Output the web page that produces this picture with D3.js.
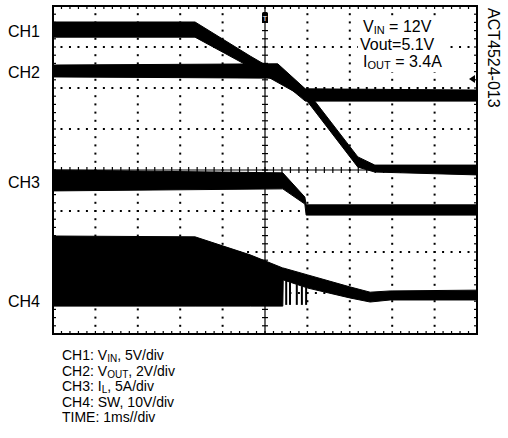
<!DOCTYPE html>
<html>
<head>
<meta charset="utf-8">
<script src="https://cdn.jsdelivr.net/npm/d3@7"></script>
<style>
  body { margin: 0; background: #fff; }
  svg text { font-family: "Liberation Sans", Arial, sans-serif; fill: #000; }
</style>
</head>
<body>
<svg id="scope" width="508" height="438"></svg>
<script>
// time in ms (1ms/div), levels in screen divisions from the centre line
// each trace is an envelope: hi = upper edge, lo = lower edge
const ch1Time = [0, 3.35, 4.65, 5.83, 6.01, 7.19, 7.59, 10]
const ch1Hi   = [3.61, 3.61, 2.78, 2.07, 1.90, 0.32, 0.12, 0.12]
const ch1Lo   = [3.24, 3.24, 2.51, 1.83, 1.66, 0.07, -0.05, -0.12]

const ch2Time = [0, 5.30, 5.95, 10]
const ch2Hi   = [2.56, 2.59, 1.98, 1.95]
const ch2Lo   = [2.27, 2.24, 1.68, 1.68]

const ch3Time = [0, 5.42, 5.94, 5.97, 10]
const ch3Hi   = [0, -0.07, -0.66, -0.85, -0.85]
const ch3Lo   = [-0.51, -0.46, -0.83, -1.10, -1.10]

const ch4Time = [0, 3.35, 4.65, 5.42, 5.43, 6.01, 7.0, 7.48, 7.95, 10]
const ch4Hi   = [-1.61, -1.63, -2.07, -2.39, -2.39, -2.56, -2.85, -2.98, -2.95, -2.93]
const ch4Lo   = [-3.32, -3.32, -3.32, -3.32, -2.68, -2.88, -3.12, -3.22, -3.17, -3.17]
// last few switching pulses after the converter drops out
const ch4Spikes = [5.50, 5.59, 5.75, 5.87, 5.97]
const spikeBottom = -3.29

const channelNames = ["CH1", "CH2", "CH3", "CH4"]
const channelLevels = [3.4, 2.4, -0.3, -3.2]

const legendLines = [
    ["CH1: V", "IN", ", 5V/div"],
    ["CH2: V", "OUT", ", 2V/div"],
    ["CH3: I", "L", ", 5A/div"],
    ["CH4: SW, 10V/div", "", ""],
    ["TIME: 1ms//div", "", ""]
]
const noteLines = [
    ["V", "IN", " = 12V"],
    ["Vout=5.1V", "", ""],
    ["I", "OUT", " = 3.4A"]
]
const partNumber = "ACT4524-013"

var svg = d3.select("#scope")

var x = d3.scaleLinear().domain([0, 10]).range([53, 477])
var y = d3.scaleLinear().domain([-4, 4]).range([334, 6])

var grid = svg.append("g").attr("class", "grid")

// dotted graticule
var minor = d3.range(0, 50.01, 1).map(d => d / 5)        // every 0.2 div in x
var minorY = d3.range(-20, 20.01, 1).map(d => d / 5)     // every 0.2 div in y
var vLines = [1, 2, 3, 4, 6, 7, 8, 9]
var hLines = [-3, -2, -1, 1, 2, 3]

vLines.forEach(function (v) {
    grid.selectAll(null)
        .data(minorY.filter(d => d > -4 && d < 4))
        .enter().append("rect")
        .attr("x", x(v) - 1)
        .attr("y", d => y(d) - 1)
        .attr("width", 2)
        .attr("height", 2)
        .attr("fill", "#000")
})
hLines.forEach(function (h) {
    grid.selectAll(null)
        .data(minor.filter(d => d > 0 && d < 10))
        .enter().append("rect")
        .attr("x", d => x(d) - 1)
        .attr("y", y(h) - 1)
        .attr("width", 2)
        .attr("height", 2)
        .attr("fill", "#000")
})

// centre cross with minor ticks
grid.append("line")
    .attr("x1", x(0)).attr("x2", x(10))
    .attr("y1", y(0)).attr("y2", y(0))
    .attr("stroke", "#000").attr("stroke-width", 1.2)
grid.append("line")
    .attr("x1", x(5)).attr("x2", x(5))
    .attr("y1", y(-4)).attr("y2", y(4))
    .attr("stroke", "#000").attr("stroke-width", 1.2)

grid.selectAll(".htick")
    .data(minor)
    .enter().append("line")
    .attr("class", "htick")
    .attr("x1", d => x(d)).attr("x2", d => x(d))
    .attr("y1", y(0) - 3).attr("y2", y(0) + 3)
    .attr("stroke", "#000").attr("stroke-width", 1.2)
grid.selectAll(".vtick")
    .data(minorY)
    .enter().append("line")
    .attr("class", "vtick")
    .attr("x1", x(5) - 3).attr("x2", x(5) + 3)
    .attr("y1", d => y(d)).attr("y2", d => y(d))
    .attr("stroke", "#000").attr("stroke-width", 1.2)

// ticks on the frame edges, pointing inwards
grid.selectAll(".ttick")
    .data(minor)
    .enter().append("line")
    .attr("x1", d => x(d)).attr("x2", d => x(d))
    .attr("y1", y(4)).attr("y2", y(4) + 3)
    .attr("stroke", "#000").attr("stroke-width", 1.2)
grid.selectAll(".btick")
    .data(minor)
    .enter().append("line")
    .attr("x1", d => x(d)).attr("x2", d => x(d))
    .attr("y1", y(-4)).attr("y2", y(-4) - 3)
    .attr("stroke", "#000").attr("stroke-width", 1.2)
grid.selectAll(".ltick")
    .data(minorY)
    .enter().append("line")
    .attr("x1", x(0)).attr("x2", x(0) + 3)
    .attr("y1", d => y(d)).attr("y2", d => y(d))
    .attr("stroke", "#000").attr("stroke-width", 1.2)
grid.selectAll(".rtick")
    .data(minorY)
    .enter().append("line")
    .attr("x1", x(10)).attr("x2", x(10) - 3)
    .attr("y1", d => y(d)).attr("y2", d => y(d))
    .attr("stroke", "#000").attr("stroke-width", 1.2)

grid.append("rect")
    .attr("x", x(0)).attr("y", y(4))
    .attr("width", x(10) - x(0)).attr("height", y(-4) - y(4))
    .attr("fill", "none").attr("stroke", "#000").attr("stroke-width", 2)

// traces drawn as filled envelopes
var band = d3.area()
    .x(d => x(d.t))
    .y0(d => y(d.lo))
    .y1(d => y(d.hi))

function envelope(t, hi, lo) {
    return t.map((d, i) => ({t: d, hi: hi[i], lo: lo[i]}))
}

var traces = [
    envelope(ch1Time, ch1Hi, ch1Lo),
    envelope(ch2Time, ch2Hi, ch2Lo),
    envelope(ch3Time, ch3Hi, ch3Lo),
    envelope(ch4Time, ch4Hi, ch4Lo)
]

svg.append("g").attr("class", "traces")
    .selectAll("path")
    .data(traces)
    .enter().append("path")
    .attr("d", band)
    .attr("fill", "#000")
    .attr("stroke", "#000")
    .attr("stroke-width", 1)

var ch4LoAt = d3.scaleLinear().domain(ch4Time.slice(4)).range(ch4Lo.slice(4))
svg.append("g").attr("class", "spikes")
    .selectAll("line")
    .data(ch4Spikes)
    .enter().append("line")
    .attr("x1", d => x(d)).attr("x2", d => x(d))
    .attr("y1", d => y(ch4LoAt(d))).attr("y2", y(spikeBottom))
    .attr("stroke", "#000").attr("stroke-width", 2)

// trigger marker at the top of the centre line
var trig = svg.append("g").attr("transform", `translate(${x(5)},${y(4)})`)
trig.append("rect")
    .attr("x", -3).attr("y", 6).attr("width", 6).attr("height", 11)
    .attr("rx", 1.5).attr("fill", "#000")
trig.append("text")
    .attr("x", 0).attr("y", 15)
    .attr("text-anchor", "middle")
    .attr("font-size", "8px")
    .style("fill", "#fff")
    .text("T")

// ground reference arrow on the right edge
svg.append("path")
    .attr("d", `M${x(10) - 8},${y(2.22)} l6,-4 v8 z`)
    .attr("fill", "#000")

// channel labels
svg.selectAll(".chLabel")
    .data(channelNames)
    .enter().append("text")
    .attr("class", "chLabel")
    .attr("x", 8)
    .attr("y", (d, i) => y(channelLevels[i]) + 6)
    .attr("font-size", "16px")
    .text(d => d)

function subText(sel, parts, size, subSize) {
    sel.append("tspan").attr("font-size", size).text(parts[0])
    if (parts[1]) {
        sel.append("tspan").attr("font-size", subSize).attr("dy", 2).text(parts[1])
        sel.append("tspan").attr("font-size", size).attr("dy", -2).text(parts[2])
    }
}

// test conditions, top right, knocked out of the graticule
var notes = svg.append("g")
notes.append("rect")
    .attr("x", 358).attr("y", 17).attr("width", 88).attr("height", 55)
    .attr("fill", "#fff")
noteLines.forEach(function (parts, i) {
    var t = notes.append("text")
        .attr("x", i == 1 ? 360 : 363)
        .attr("y", 32 + i * 17.5)
    subText(t, parts, "16px", "11px")
})

svg.append("text")
    .attr("transform", "translate(488,8) rotate(90)")
    .attr("font-size", "16px")
    .text(partNumber)

// scale legend under the screen
legendLines.forEach(function (parts, i) {
    var t = svg.append("text")
        .attr("x", 62)
        .attr("y", 360 + i * 15.5)
    subText(t, parts, "14px", "10px")
})
</script>
</body>
</html>
